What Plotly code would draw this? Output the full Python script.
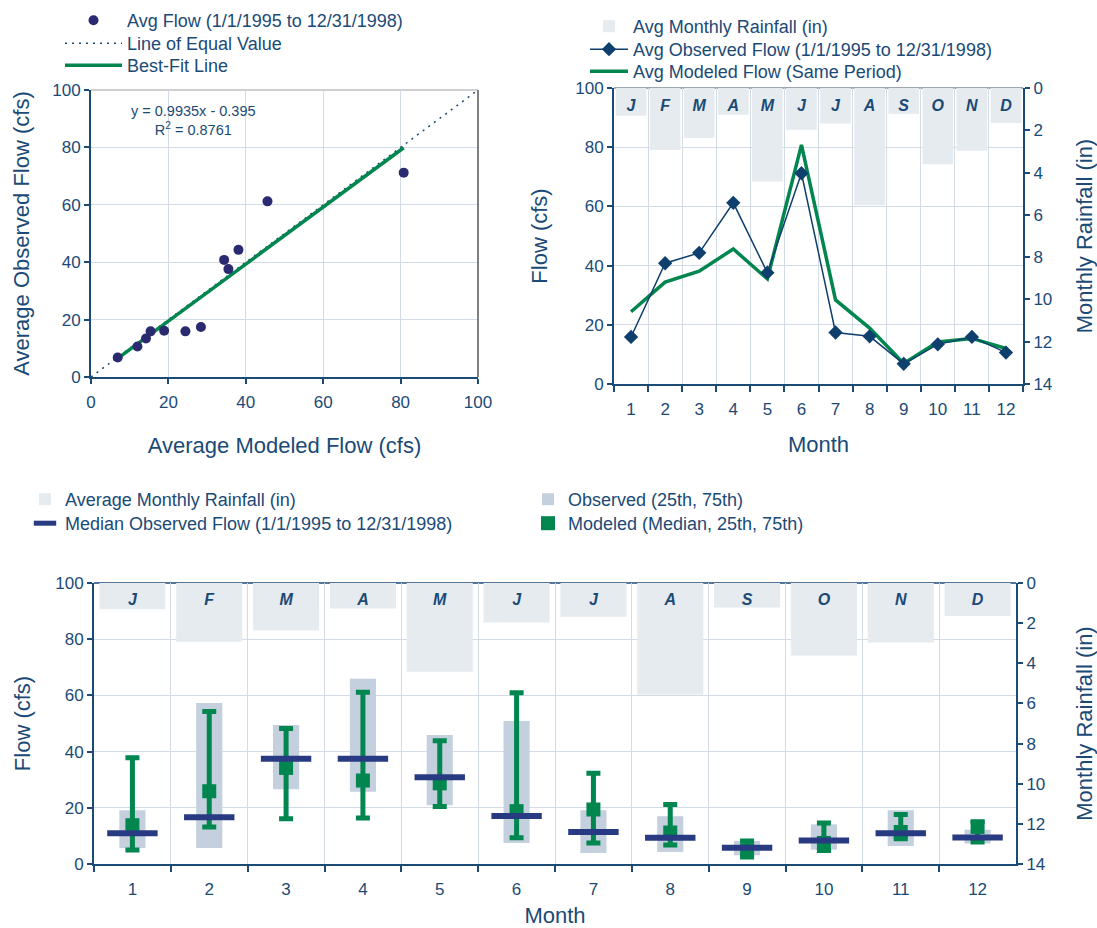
import numpy as np
import plotly.graph_objects as go

# ---------------- data ----------------
months = [str(m) for m in range(1, 13)]
month_letters = ["J", "F", "M", "A", "M", "J", "J", "A", "S", "O", "N", "D"]

# average monthly rainfall (in)
rainfall_in = [1.31, 2.93, 2.37, 1.27, 4.42, 1.97, 1.68, 5.55, 1.22, 3.61, 2.97, 1.65]

# average monthly flow (cfs), 1/1/1995 - 12/31/1998
avg_observed = [15.9, 40.8, 44.3, 61.2, 37.6, 71.2, 17.4, 16.1, 6.8, 13.4, 15.9, 10.6]
avg_modeled = [24.4, 34.4, 38.1, 45.6, 35.5, 80.8, 28.4, 18.9, 6.9, 14.2, 15.4, 12.0]

# regression reported on the scatter
fit_slope = 0.9935
fit_intercept = -0.395
fit_r2 = 0.8761

# monthly flow percentiles (cfs)
obs_p25 = [5.7, 5.7, 26.6, 25.7, 20.9, 7.5, 3.9, 4.3, 3.1, 5.1, 6.4, 7.3]
obs_p75 = [19.1, 57.3, 49.5, 65.9, 45.9, 50.9, 19.1, 17.0, 8.2, 14.1, 19.1, 12.2]
obs_median = [10.9, 16.6, 37.5, 37.5, 30.9, 17.1, 11.4, 9.3, 5.8, 8.4, 10.9, 9.4]
mod_p25 = [5.0, 13.2, 16.1, 16.4, 20.5, 9.3, 7.5, 6.8, 2.5, 4.8, 9.0, 7.8]
mod_p75 = [37.8, 54.3, 48.2, 61.1, 43.9, 60.9, 32.3, 21.2, 8.2, 14.6, 17.6, 15.0]
mod_median = [13.8, 25.9, 34.2, 29.7, 28.7, 18.8, 19.4, 11.2, 4.9, 7.5, 11.4, 13.2]

# ---------------- style ----------------
W, H = 1097, 928
FONT = "Liberation Sans, Arial, sans-serif"
NAVY = "#1b4a76"
GRID = "#d3dce6"
RAIN = "#e6ebf0"
OBS_BOX = "#c4d0dd"
GREEN = "#00864e"
DOT = "#2a2a70"
DIAMOND = "#0f3f6d"
MEDIAN = "#283b82"
LETTER_Y = 0.9  # rainfall-axis position of the month initials


def px_x(p):
    return p / W


def px_y(p):
    return 1 - p / H


def legend_row(text_left, row_center, itemwidth=30):
    """One-entry legend whose text starts at text_left and is centred on row_center (px)."""
    return dict(x=px_x(text_left - itemwidth - 10), y=px_y(row_center - 17),
                xanchor="left", yanchor="top",
                font=dict(size=18, color=NAVY, family=FONT), itemwidth=itemwidth,
                bgcolor="rgba(0,0,0,0)")


fig = go.Figure()

# ---------- panel 1: modeled vs observed scatter ----------
eq = np.array([0, 100])
fig.add_trace(go.Scatter(
    x=eq, y=eq, mode="lines", name="Line of Equal Value",
    line=dict(color=NAVY, width=1.5, dash="2px,5px"),
    xaxis="x", yaxis="y", legend="legend2"))
fx = np.array([min(avg_modeled), max(avg_modeled)])
fig.add_trace(go.Scatter(
    x=fx, y=fit_slope * fx + fit_intercept, mode="lines", name="Best-Fit Line",
    line=dict(color=GREEN, width=3.5),
    xaxis="x", yaxis="y", legend="legend3"))
fig.add_trace(go.Scatter(
    x=avg_modeled, y=avg_observed, mode="markers",
    name="Avg Flow (1/1/1995 to 12/31/1998)",
    marker=dict(color=DOT, size=10),
    xaxis="x", yaxis="y", legend="legend"))

# ---------- panel 2: monthly averages ----------
fig.add_trace(go.Bar(
    x=months, y=rainfall_in, width=0.9, name="Avg Monthly Rainfall (in)",
    marker=dict(color=RAIN, line=dict(width=0)),
    xaxis="x2", yaxis="y2", legend="legend4"))
fig.add_trace(go.Scatter(
    x=months, y=[LETTER_Y] * 12, mode="text", text=month_letters,
    texttemplate="<b><i>%{text}</i></b>",
    textfont=dict(color=NAVY, size=16, family=FONT),
    showlegend=False, hoverinfo="skip", xaxis="x2", yaxis="y2"))
fig.add_trace(go.Scatter(
    x=months, y=avg_modeled, mode="lines", name="Avg Modeled Flow (Same Period)",
    line=dict(color=GREEN, width=3.5),
    xaxis="x2", yaxis="y3", legend="legend6"))
fig.add_trace(go.Scatter(
    x=months, y=avg_observed, mode="lines+markers",
    name="Avg Observed Flow (1/1/1995 to 12/31/1998)",
    line=dict(color=DIAMOND, width=1.5),
    marker=dict(symbol="diamond", size=11, color=DIAMOND),
    xaxis="x2", yaxis="y3", legend="legend5"))

# ---------- panel 3: monthly percentiles ----------
fig.add_trace(go.Bar(
    x=months, y=rainfall_in, width=0.86, name="Average Monthly Rainfall (in)",
    marker=dict(color=RAIN, line=dict(width=0)),
    xaxis="x3", yaxis="y4", legend="legend7"))
fig.add_trace(go.Scatter(
    x=months, y=[LETTER_Y] * 12, mode="text", text=month_letters,
    texttemplate="<b><i>%{text}</i></b>",
    textfont=dict(color=NAVY, size=16, family=FONT),
    showlegend=False, hoverinfo="skip", xaxis="x3", yaxis="y4"))
obs_lo = np.array(obs_p25)
obs_hi = np.array(obs_p75)
fig.add_trace(go.Bar(
    x=months, y=obs_hi - obs_lo, base=obs_lo, width=0.34,
    name="Observed (25th, 75th)",
    marker=dict(color=OBS_BOX, line=dict(width=0)),
    xaxis="x3", yaxis="y5", legend="legend9"))
med = np.array(mod_median)
fig.add_trace(go.Scatter(
    x=months, y=med, mode="markers", name="Modeled (Median, 25th, 75th)",
    marker=dict(symbol="square", size=14, color=GREEN),
    error_y=dict(type="data", symmetric=False,
                 array=np.array(mod_p75) - med,
                 arrayminus=med - np.array(mod_p25),
                 color=GREEN, thickness=5, width=7),
    xaxis="x3", yaxis="y5", legend="legend10"))
fig.add_trace(go.Scatter(
    x=months, y=obs_median, mode="markers",
    name="Median Observed Flow (1/1/1995 to 12/31/1998)",
    marker=dict(symbol="line-ew", size=36, line=dict(color=MEDIAN, width=6)),
    xaxis="x3", yaxis="y5", legend="legend8"))

# ---------------- axes ----------------
tick_font = dict(size=17, color=NAVY, family=FONT)
title_font = dict(size=22, color=NAVY, family=FONT)


def lin_axis(**kw):
    base = dict(showline=True, linecolor=NAVY, linewidth=2,
                ticks="outside", ticklen=5, tickwidth=1.5, tickcolor=NAVY,
                tickfont=tick_font, showgrid=True, gridcolor=GRID, gridwidth=1,
                zeroline=False, fixedrange=True, automargin=False)
    base.update(kw)
    return base


def cat_axis(**kw):
    base = dict(type="category", categoryorder="array", categoryarray=months,
                range=[-0.5, 11.5], tickson="boundaries",
                showline=True, linecolor=NAVY, linewidth=2,
                ticks="outside", ticklen=6, tickwidth=1.5, tickcolor=NAVY,
                tickfont=tick_font, showgrid=True, gridcolor=GRID, gridwidth=1,
                zeroline=False, fixedrange=True, automargin=False)
    base.update(kw)
    return base


d1x = [px_x(91), px_x(478)]
d1y = [px_y(377), px_y(90)]
d2x = [px_x(614), px_x(1023)]
d2y = [px_y(384), px_y(88)]
d3x = [px_x(94), px_x(1016)]
d3y = [px_y(864), px_y(583)]

fig.update_layout(
    width=W, height=H, margin=dict(l=0, r=0, t=0, b=0),
    paper_bgcolor="white", plot_bgcolor="white",
    font=dict(family=FONT, color=NAVY),
    barmode="overlay", showlegend=True,
    xaxis=lin_axis(domain=d1x, anchor="y", range=[0, 100], dtick=20,
                   ticklabelstandoff=4,
                   title=dict(text="Average Modeled Flow (cfs)", font=title_font, standoff=26)),
    yaxis=lin_axis(domain=d1y, anchor="x", range=[0, 100], dtick=20,
                   title=dict(text="Average Observed Flow (cfs)", font=title_font, standoff=17)),
    xaxis2=cat_axis(domain=d2x, anchor="y2", ticklabelstandoff=9,
                    title=dict(text="Month", font=title_font, standoff=18)),
    yaxis2=lin_axis(domain=d2y, anchor="x2", side="right", range=[14, 0], dtick=2,
                    showgrid=False,
                    title=dict(text="Monthly Rainfall (in)", font=title_font, standoff=26)),
    yaxis3=lin_axis(overlaying="y2", anchor="x2", side="left", range=[0, 100], dtick=20,
                    title=dict(text="Flow (cfs)", font=title_font, standoff=22)),
    xaxis3=cat_axis(domain=d3x, anchor="y4", ticklabelstandoff=9,
                    title=dict(text="Month", font=title_font, standoff=13)),
    yaxis4=lin_axis(domain=d3y, anchor="x3", side="right", range=[14, 0], dtick=2,
                    showgrid=False,
                    title=dict(text="Monthly Rainfall (in)", font=title_font, standoff=40)),
    yaxis5=lin_axis(overlaying="y4", anchor="x3", side="left", range=[0, 100], dtick=20,
                    title=dict(text="Flow (cfs)", font=title_font, standoff=19)),
    # scatter panel legend rows
    legend=legend_row(127, 19, 57),
    legend2=legend_row(127, 42, 57),
    legend3=legend_row(127, 64, 57),
    # monthly-average panel legend rows
    legend4=legend_row(633, 25, 38),
    legend5=legend_row(633, 48, 38),
    legend6=legend_row(633, 70, 38),
    # percentile panel legend rows
    legend7=legend_row(65, 498),
    legend8=legend_row(65, 522),
    legend9=legend_row(568, 498),
    legend10=legend_row(568, 522),
    annotations=[dict(
        text=f"y = {fit_slope}x - {abs(fit_intercept)}<br>R<sup>2</sup> = {fit_r2}",
        x=26.6, y=89.5, xref="x", yref="y", showarrow=False, align="center",
        font=dict(size=14.5, color=NAVY, family=FONT))],
    shapes=[
        # frame edges of the scatter panel
        dict(type="line", xref="x domain", yref="y domain", x0=0, x1=1, y0=1, y1=1,
             line=dict(color="#a0a0a0", width=1), layer="below"),
        dict(type="line", xref="x domain", yref="y domain", x0=1, x1=1, y0=0, y1=1,
             line=dict(color="#808080", width=2), layer="above"),
        # top edges of the monthly panels, partly hidden by the rainfall bars
        dict(type="line", xref="x2 domain", yref="y2 domain", x0=0, x1=1, y0=1, y1=1,
             line=dict(color="#7d8a96", width=1.5), layer="below"),
        dict(type="line", xref="x3 domain", yref="y4 domain", x0=0, x1=1, y0=1, y1=1,
             line=dict(color=NAVY, width=1.5), layer="below"),
    ],
)

fig.write_html("out.html")
